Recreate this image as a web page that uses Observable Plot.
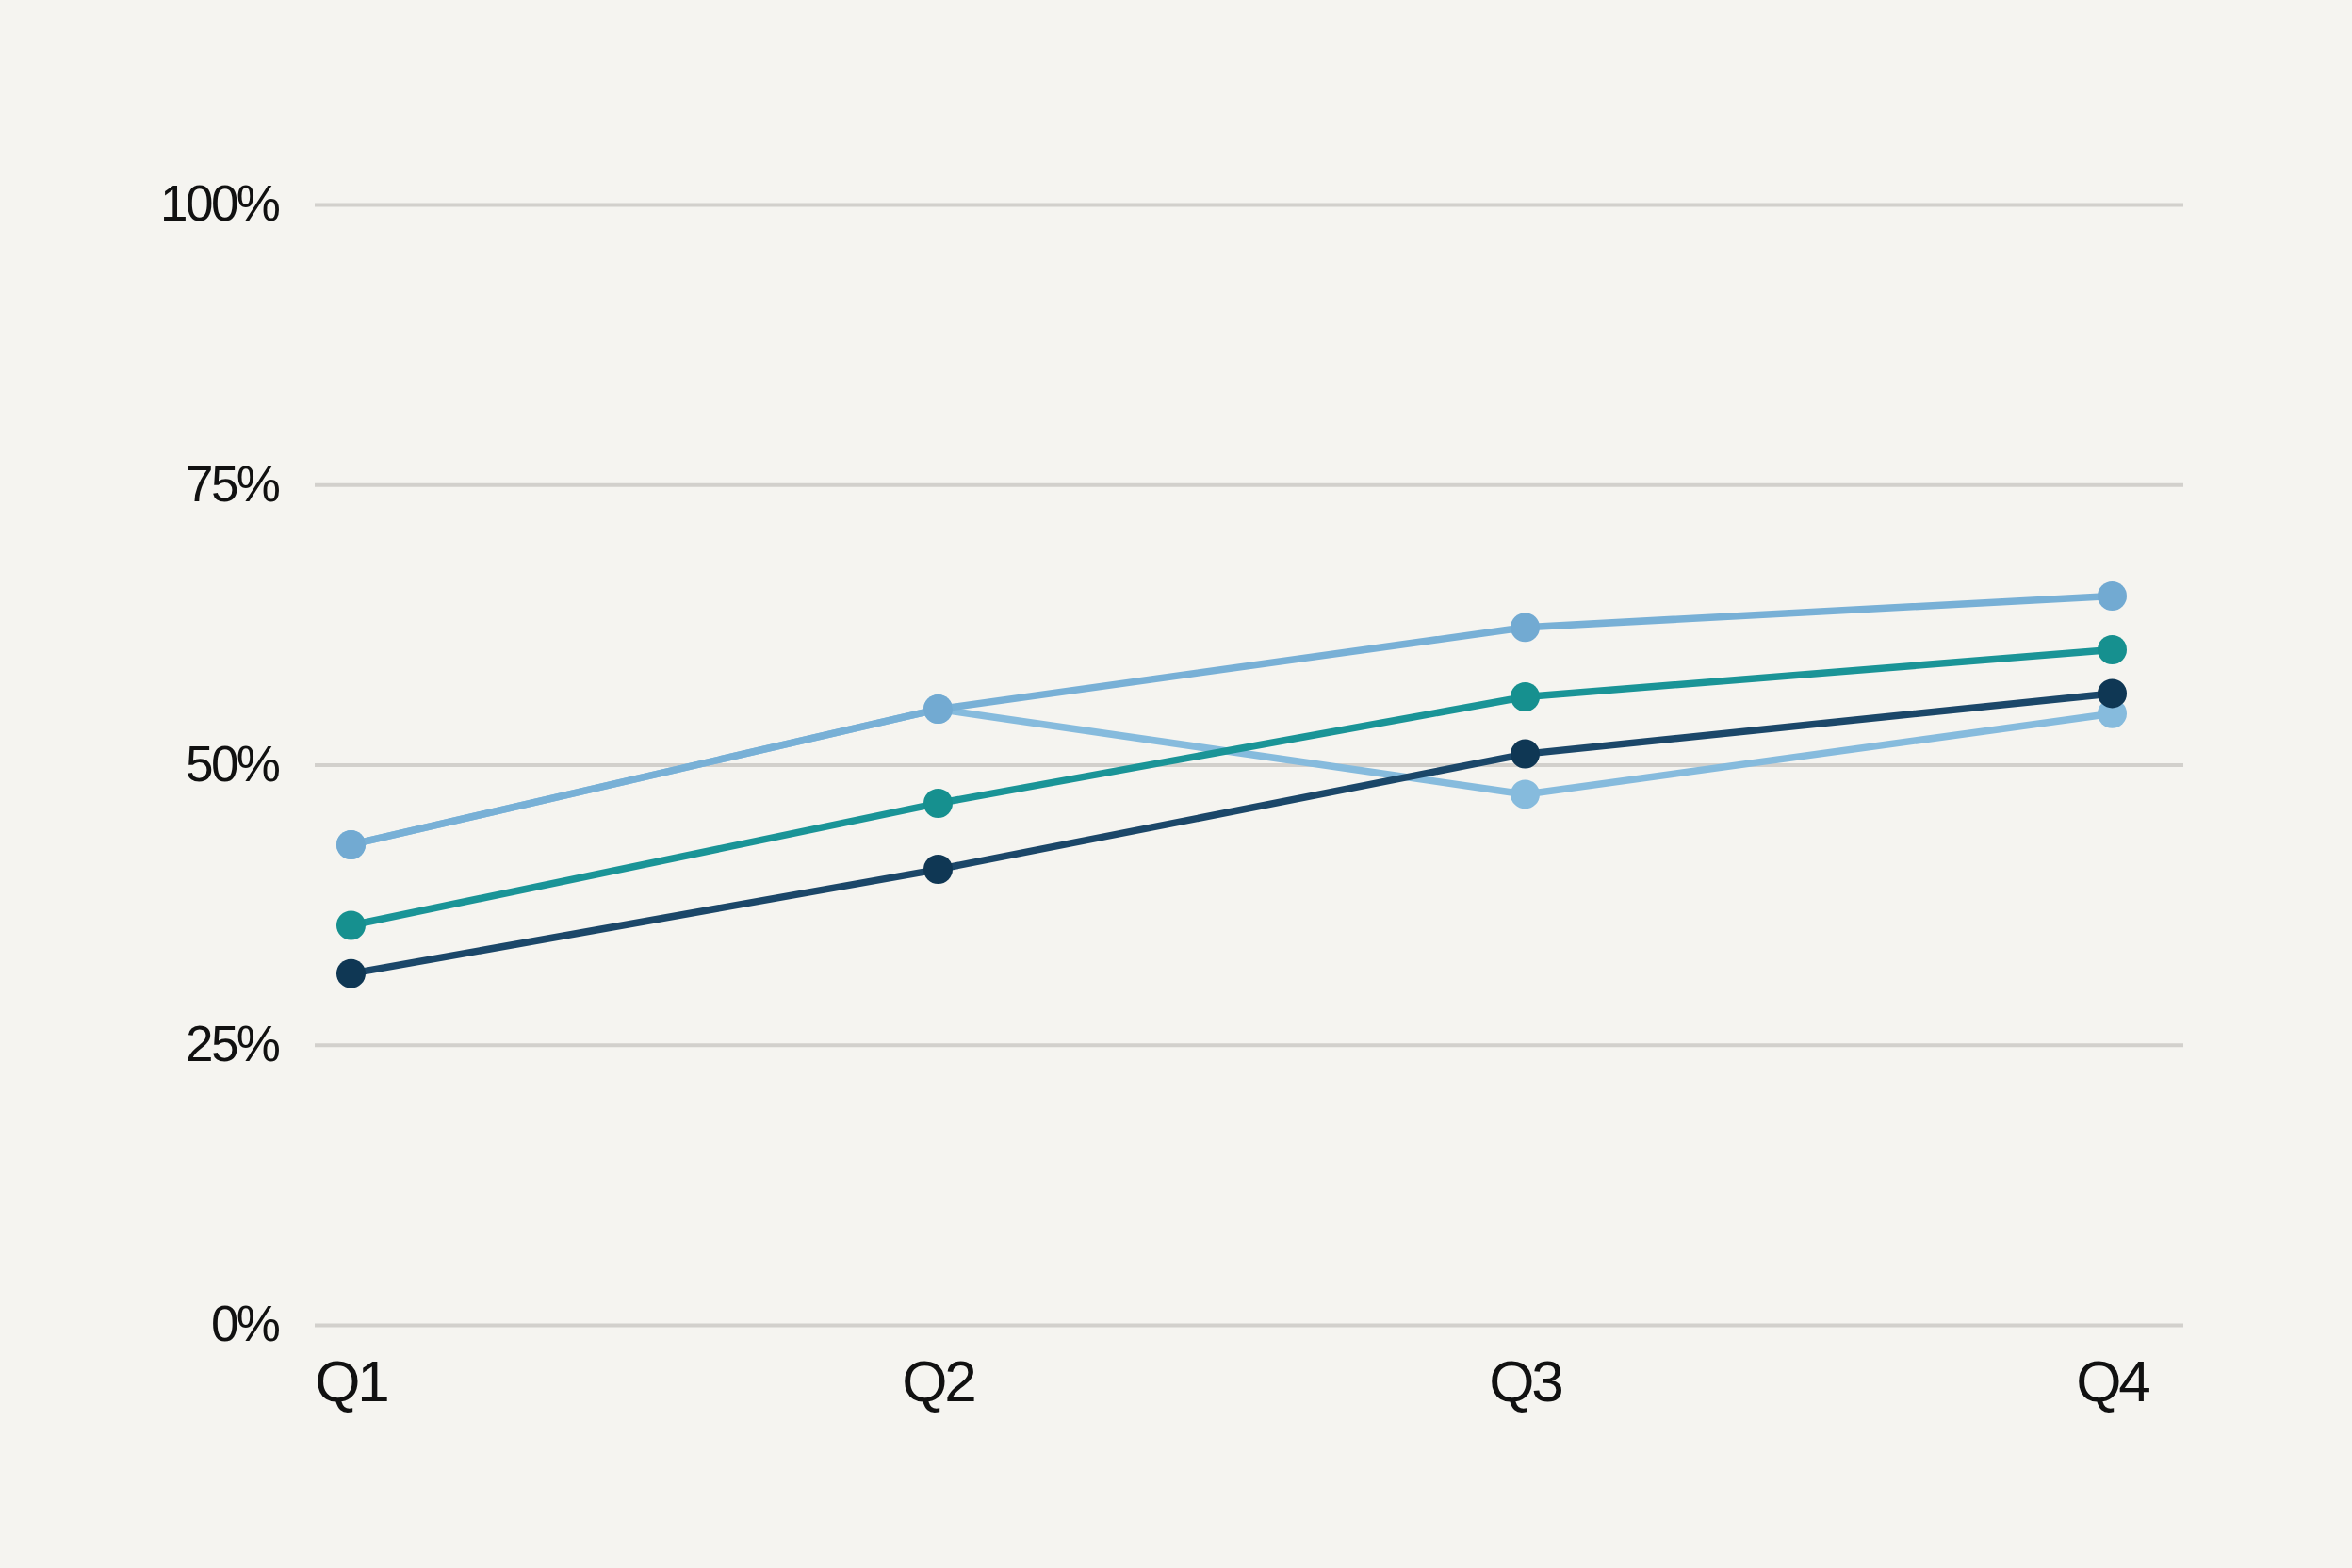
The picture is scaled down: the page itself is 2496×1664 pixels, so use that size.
<!DOCTYPE html>
<html>
<head>
<meta charset="utf-8">
<script src="https://cdn.jsdelivr.net/npm/d3@7"></script>
<script src="https://cdn.jsdelivr.net/npm/@observablehq/plot@0.6"></script>
<style>
  html, body { margin: 0; padding: 0; background: #f5f4f0; }
  #chart svg { display: block; }
  g[aria-label="y-axis tick label"] text { letter-spacing: -2.5px; }
  g[aria-label="x-axis tick label"] text { letter-spacing: -3px; }
</style>
</head>
<body>
<div id="chart"></div>
<script>
const quarters = ["Q1", "Q2", "Q3", "Q4"];
const seriesNames = ["Series B", "Series A", "Series C", "Series D"];
const seriesA = [42.9, 55.0, 62.3, 65.1];
const seriesB = [42.9, 55.0, 47.4, 54.6];
const seriesC = [35.7, 46.6, 56.1, 60.3];
const seriesD = [31.4, 40.7, 51.0, 56.4];
const lineColors = ["#86bbdd", "#78b0d6", "#1a9497", "#1b4769"];
const dotColors = ["#86bbdd", "#72aad2", "#16908f", "#0f3754"];
const yTicks = [0, 25, 50, 75, 100];

const seriesValues = [seriesB, seriesA, seriesC, seriesD];
const rows = [];
seriesNames.forEach((name, i) => {
  quarters.forEach((q, j) => rows.push({series: name, quarter: q, value: seriesValues[i][j]}));
});

const marks = [
  Plot.ruleY(yTicks, {stroke: "#d2d0cc", strokeWidth: 4}),
  Plot.axisY({ticks: yTicks, tickSize: 0, tickPadding: 39, tickFormat: d => d + "%", fontSize: 53, label: null}),
  Plot.axisX({tickSize: 0, tickPadding: 36, fontSize: 62, label: null})
];
seriesNames.forEach((name, i) => {
  const data = rows.filter(r => r.series === name);
  marks.push(Plot.line(data, {x: "quarter", y: "value", stroke: lineColors[i], strokeWidth: 7.5, strokeLinecap: "round", strokeLinejoin: "round"}));
});
seriesNames.forEach((name, i) => {
  const data = rows.filter(r => r.series === name);
  marks.push(Plot.dot(data, {x: "quarter", y: "value", fill: dotColors[i], r: 15.5}));
});

const chart = Plot.plot({
  width: 2496,
  height: 1664,
  marginLeft: 334,
  marginRight: 179,
  marginTop: 217,
  marginBottom: 258,
  style: {background: "transparent", fontFamily: "'Liberation Sans', Arial, sans-serif", color: "#111111"},
  x: {type: "point", domain: quarters, padding: 0, insetLeft: 37, insetRight: 75, label: null},
  y: {domain: [0, 100], label: null},
  marks
});
document.getElementById("chart").appendChild(chart);
</script>
</body>
</html>
